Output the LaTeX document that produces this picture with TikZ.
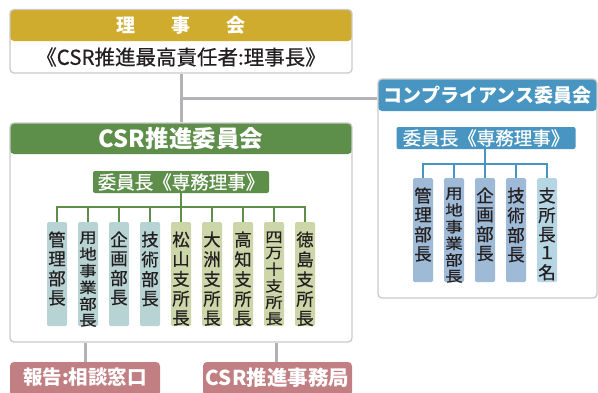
\documentclass[tikz,border=0pt]{standalone}
\usepackage{fontspec}
\setmainfont{Noto Sans CJK JP}
\newfontfamily\jpmed[FakeBold=0.6]{Noto Sans CJK JP}
\usepackage{graphicx}
\definecolor{gold}{HTML}{D0AC2E}
\definecolor{cgreen}{HTML}{5E8F4A}
\definecolor{cblue}{HTML}{4895C1}
\definecolor{cpink}{HTML}{C27F83}
\definecolor{bordergray}{HTML}{CACACA}
\definecolor{linegray}{HTML}{B2B2B6}
\definecolor{mteal}{HTML}{B8D3D3}
\definecolor{molive}{HTML}{CDD6A9}
\definecolor{mblue}{HTML}{9EBAD6}
\definecolor{mlight}{HTML}{B6D6E3}
\definecolor{dark}{HTML}{231F20}
\newcommand\vstack[1]{\begin{tabular}{@{}c@{}}#1\end{tabular}}
\newcommand\vsquash[1]{\scalebox{1}[0.84]{\vstack{#1}}}
\tikzset{
  panel/.style={draw=bordergray, line width=1.3pt, rounded corners=4pt, fill=white, inner sep=0pt},
  band/.style 2 args={path picture={\fill[#1] ([yshift=2pt]path picture bounding box.north west) rectangle ([yshift=-#2]path picture bounding box.north east);}},
  conn/.style={draw=linegray, line width=3pt},
  gline/.style={draw=cgreen, line width=2pt},
  bline/.style={draw=cblue, line width=2pt},
  chairbox/.style={rounded corners=2pt, inner sep=0pt, text=white, font=\jpmed\fontsize{18.5}{18.5}\selectfont},
  memb/.style={rounded corners=1.5pt, minimum width=20pt, minimum height=104pt, inner sep=0pt},
  vt/.style={anchor=north, inner sep=0pt, text=dark, font=\jpmed\fontsize{17.4}{17.5}\selectfont},
  title/.style={text=white, inner sep=0pt, font=\fontsize{19}{19}\bfseries},
  foot/.style={rounded corners=4pt, fill=cpink, minimum height=34pt, inner sep=0pt},
}
\begin{document}
\begin{tikzpicture}[x=1pt,y=-1pt]
\clip (0,0) rectangle (598,392);
\fill[white] (0,0) rectangle (598,392);

% board
\node[panel, band={gold}{31.5pt}, minimum width=342pt, minimum height=63.5pt] (board) at (181,41.25) {};
\node[title] (boardt) at (181,25.5) {理\hspace{36pt}事\hspace{36pt}会};
\node[inner sep=0pt, text=dark, font=\jpmed\fontsize{20.5}{20.5}\selectfont] (boards) at (181,57) {《CSR推進最高責任者:理事長》};

% CSR committee
\node[panel, band={cgreen}{31pt}, minimum width=342pt, minimum height=219pt] (csr) at (181,232.5) {};
\node[title, font=\fontsize{23.5}{23.5}\bfseries] (csrt) at (181,138.5) {CSR推進委員会};
\node[chairbox, fill=cgreen, minimum width=176pt, minimum height=22pt] (lchair) at (181,182) {委員長《専務理事》};

\node[memb, fill=mteal]  (l1) at (57,274) {};
\node[memb, fill=mteal]  (l2) at (88,274) {};
\node[memb, fill=mteal]  (l3) at (119,274) {};
\node[memb, fill=mteal]  (l4) at (150,274) {};
\node[memb, fill=molive] (l5) at (181,274) {};
\node[memb, fill=molive] (l6) at (212,274) {};
\node[memb, fill=molive] (l7) at (243,274) {};
\node[memb, fill=molive] (l8) at (274,274) {};
\node[memb, fill=molive] (l9) at (305,274) {};
\node[vt] (l1t) at ([yshift=-9.5pt]l1.north) {\vstack{管\\理\\部\\長}};
\node[vt] (l2t) at ([yshift=-9.5pt]l2.north) {\vsquash{用\\地\\事\\業\\部\\長}};
\node[vt] (l3t) at ([yshift=-9.5pt]l3.north) {\vstack{企\\画\\部\\長}};
\node[vt] (l4t) at ([yshift=-9.5pt]l4.north) {\vstack{技\\術\\部\\長}};
\node[vt] (l5t) at ([yshift=-9.5pt]l5.north) {\vstack{松\\山\\支\\所\\長}};
\node[vt] (l6t) at ([yshift=-9.5pt]l6.north) {\vstack{大\\洲\\支\\所\\長}};
\node[vt] (l7t) at ([yshift=-9.5pt]l7.north) {\vstack{高\\知\\支\\所\\長}};
\node[vt] (l8t) at ([yshift=-9.5pt]l8.north) {\vsquash{四\\万\\十\\支\\所\\長}};
\node[vt] (l9t) at ([yshift=-9.5pt]l9.north) {\vstack{徳\\島\\支\\所\\長}};

\coordinate (lbr) at (181,207);
\draw[gline] (lchair.south) -- (lbr);
\draw[gline] (l1.north) -- (l1.north |- lbr) -- (l9.north |- lbr) -- (l9.north);
\foreach \i in {2,...,8} { \draw[gline] (l\i.north) -- (l\i.north |- lbr); }

% compliance committee
\node[panel, band={cblue}{32pt}, minimum width=219pt, minimum height=219pt] (comp) at (487.5,188.5) {};
\node[title] (compt) at (487.5,95) {コンプライアンス委員会};
\node[chairbox, fill=cblue, minimum width=179pt, minimum height=22pt] (cchair) at (486,138) {委員長《専務理事》};

\node[memb, fill=mblue]  (c1) at (423,230) {};
\node[memb, fill=mblue]  (c2) at (454,230) {};
\node[memb, fill=mblue]  (c3) at (485,230) {};
\node[memb, fill=mblue]  (c4) at (516,230) {};
\node[memb, fill=mlight] (c5) at (547,230) {};
\node[vt] (c1t) at ([yshift=-9.5pt]c1.north) {\vstack{管\\理\\部\\長}};
\node[vt] (c2t) at ([yshift=-9.5pt]c2.north) {\vsquash{用\\地\\事\\業\\部\\長}};
\node[vt] (c3t) at ([yshift=-9.5pt]c3.north) {\vstack{企\\画\\部\\長}};
\node[vt] (c4t) at ([yshift=-9.5pt]c4.north) {\vstack{技\\術\\部\\長}};
\node[vt] (c5t) at ([yshift=-9.5pt]c5.north) {\vstack{支\\所\\長\\１\\名}};

\coordinate (cbr) at (485,164);
\draw[bline] (cchair.south -| cbr) -- (cbr);
\draw[bline] (c1.north) -- (c1.north |- cbr) -- (c5.north |- cbr) -- (c5.north);
\foreach \i in {2,3,4} { \draw[bline] (c\i.north) -- (c\i.north |- cbr); }

% main connectors
\draw[conn] (board.south) -- (csr.north);
\coordinate (j) at (181,98);
\draw[conn] (j) -- (j -| comp.west);

% footer boxes
\node[foot, minimum width=150pt] (report) at (85,379) {};
\node[title, font=\fontsize{19.5}{19.5}\bfseries] (reportt) at (85,377.5) {報告:相談窓口};
\node[foot, minimum width=149pt] (office) at (277.5,379) {};
\node[title, font=\fontsize{20.5}{20.5}\bfseries] (officet) at (277.5,377.5) {CSR推進事務局};
\draw[conn] (report.north) -- (report.north |- csr.south);
\draw[conn] ([xshift=-1.5pt]office.north) -- ([xshift=-1.5pt]office.north |- csr.south);
\end{tikzpicture}
\end{document}
